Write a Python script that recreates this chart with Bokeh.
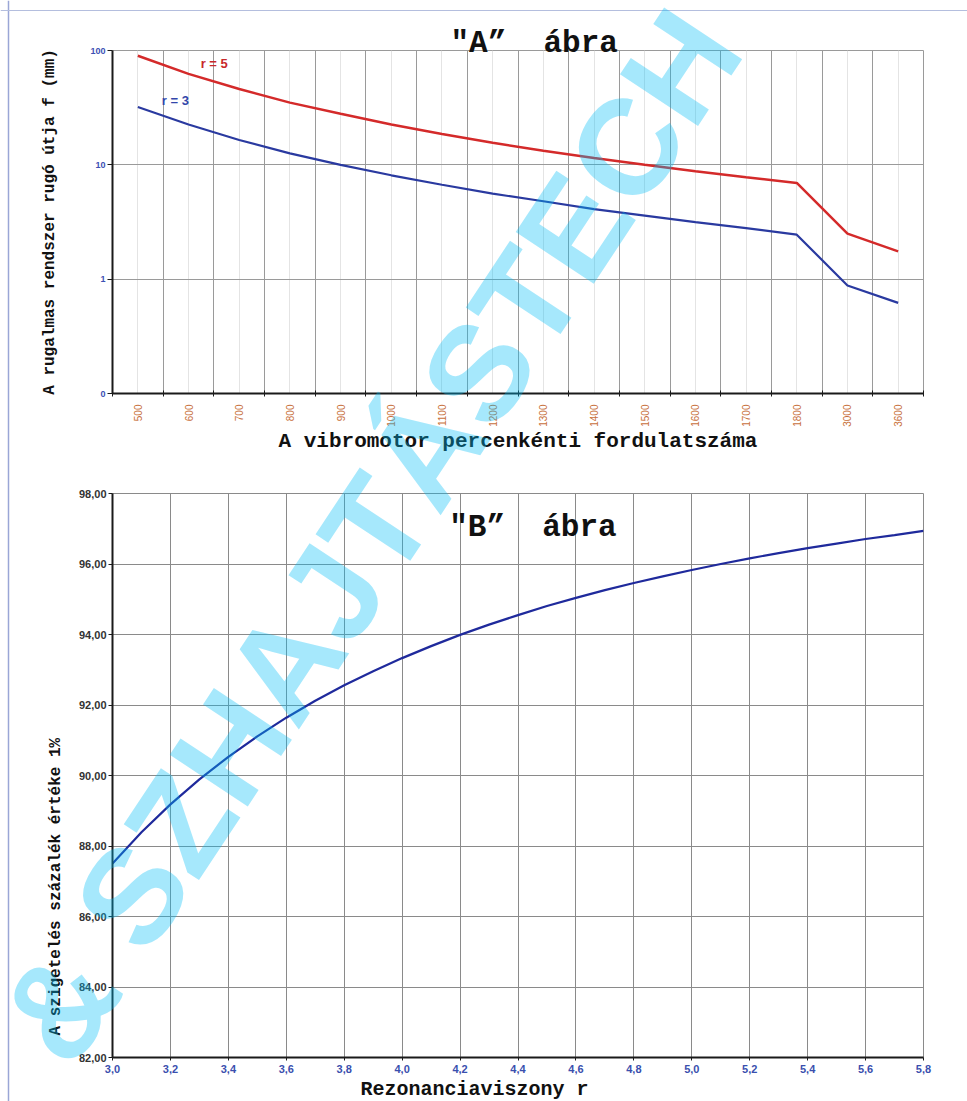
import math
from bokeh.plotting import figure
from bokeh.models import FixedTicker, Label, Range1d, Title, Span
from bokeh.layouts import column
from bokeh.embed import file_html
from bokeh.resources import INLINE

# ---------------- data: chart "A" ----------------
speeds = ["500", "600", "700", "800", "900", "1000", "1100", "1200", "1300",
          "1400", "1500", "1600", "1700", "1800", "3000", "3600"]
f_r5 = [90, 62.5, 46, 35, 28, 22.5, 18.6, 15.6, 13.3, 11.5, 10, 8.8, 7.8, 6.95, 2.5, 1.75]
f_r3 = [32, 22.5, 16.5, 12.6, 10, 8.1, 6.7, 5.6, 4.8, 4.1, 3.6, 3.15, 2.8, 2.45, 0.88, 0.62]
y_ticks_a = [0.1, 1, 10, 100]
y_labels_a = ["0", "1", "10", "100"]

# ---------------- data: chart "B" ----------------
ratio = [3.0, 3.1, 3.2, 3.3, 3.4, 3.5, 3.6, 3.7, 3.8, 3.9, 4.0, 4.1, 4.2, 4.3, 4.4,
         4.5, 4.6, 4.7, 4.8, 4.9, 5.0, 5.1, 5.2, 5.3, 5.4, 5.5, 5.6, 5.7, 5.8]
isolation = [87.50, 88.39, 89.18, 89.89, 90.53, 91.11, 91.64, 92.12, 92.56, 92.96,
             93.33, 93.67, 93.99, 94.28, 94.55, 94.81, 95.04, 95.26, 95.46, 95.65,
             95.83, 96.00, 96.16, 96.31, 96.45, 96.58, 96.71, 96.82, 96.94]
x_ticks_b = [3.0, 3.2, 3.4, 3.6, 3.8, 4.0, 4.2, 4.4, 4.6, 4.8, 5.0, 5.2, 5.4, 5.6, 5.8]
x_labels_b = ["3,0", "3,2", "3,4", "3,6", "3,8", "4,0", "4,2", "4,4", "4,6", "4,8",
              "5,0", "5,2", "5,4", "5,6", "5,8"]
y_ticks_b = [82, 84, 86, 88, 90, 92, 94, 96, 98]
y_labels_b = ["82,00", "84,00", "86,00", "88,00", "90,00", "92,00", "94,00", "96,00", "98,00"]

MONO = "Liberation Mono"
SANS = "Liberation Sans"
NBSP = "\u00a0"
W = 967
H = 1101
A_H = 460
B_H = H - A_H

# page-pixel frame boxes (used only to place annotations)
A_L, A_R, A_T, A_B = 110, 923, 50, 393
B_L, B_R, B_T, B_B = 112, 943, 493, 1057


def a_x(px):
    return (px - A_L) / (A_R - A_L) * len(speeds)


def a_y(py):
    return 10 ** (2 - (py - A_T) / (A_B - A_T) * 3)


def b_x(px):
    return 3.0 + (px - B_L) / (B_R - B_L) * 2.8


def b_y(py):
    return 98 - (py - B_T) / (B_B - B_T) * 16


def style_common(p):
    p.background_fill_color = "white"
    p.border_fill_color = "white"
    p.outline_line_color = "#9a9a9a"
    p.outline_line_width = 1
    for ax in (p.xaxis[0], p.yaxis[0]):
        ax.axis_line_color = "#1a1a1a"
        ax.axis_line_width = 2
        ax.minor_tick_line_color = None


# ================= chart "A" =================
pa = figure(width=W, height=A_H, x_range=Range1d(0, len(speeds)),
            y_range=Range1d(0.1, 100), y_axis_type="log",
            output_backend="svg", toolbar_location=None,
            min_border_left=A_L, min_border_right=W - A_R,
            min_border_top=A_T, min_border_bottom=A_H - A_B)
style_common(pa)

xs = [i + 0.5 for i in range(len(speeds))]
pa.line(xs, f_r5, line_color="#d42a2a", line_width=2.5)
pa.line(xs, f_r3, line_color="#2a3aa0", line_width=2.2)

xa = pa.xaxis[0]
xa.ticker = FixedTicker(ticks=xs, minor_ticks=list(range(len(speeds) + 1)))
xa.major_label_overrides = {x: s for x, s in zip(xs, speeds)}
xa.major_label_orientation = math.pi / 2
xa.major_tick_line_color = None
xa.minor_tick_line_color = "#1a1a1a"
xa.minor_tick_in = 3
xa.minor_tick_out = 3
xa.major_label_standoff = 5
xa.major_label_text_font = SANS
xa.major_label_text_font_size = "10px"
xa.major_label_text_color = "#c8703c"
xa.axis_label = "A vibromotor percenkénti fordulatszáma"
xa.axis_label_text_font = MONO
xa.axis_label_text_font_style = "bold"
xa.axis_label_text_font_size = "21px"
xa.axis_label_text_color = "#111111"
xa.axis_label_standoff = 0

ya = pa.yaxis[0]
ya.ticker = FixedTicker(ticks=y_ticks_a, minor_ticks=[])
ya.major_label_overrides = {t: s for t, s in zip(y_ticks_a, y_labels_a)}
ya.major_tick_in = 0
ya.major_tick_out = 5
ya.major_tick_line_color = "#1a1a1a"
ya.major_label_standoff = 2
ya.major_label_text_font = SANS
ya.major_label_text_font_style = "bold"
ya.major_label_text_font_size = "9px"
ya.major_label_text_color = "#3c50b4"
ya.axis_label = "A rugalmas rendszer rugó útja f (mm)"
ya.axis_label_text_font = MONO
ya.axis_label_text_font_style = "bold"
ya.axis_label_text_font_size = "16px"
ya.axis_label_text_color = "#111111"
ya.axis_label_standoff = 28

pa.xgrid.grid_line_color = "#e4e4e4"
pa.xgrid.minor_grid_line_color = "#9a9a9a"
pa.ygrid.grid_line_color = "#9a9a9a"
pa.ygrid.minor_grid_line_color = None

pa.add_layout(Label(x=a_x(212), y=a_y(63), text="r = 5", text_font=SANS,
                    text_font_style="bold", text_font_size="13px", text_color="#c8282a",
                    text_align="center", text_baseline="middle"))
pa.add_layout(Label(x=a_x(173), y=a_y(100), text="r = 3", text_font=SANS,
                    text_font_style="bold", text_font_size="13px", text_color="#3246aa",
                    text_align="center", text_baseline="middle"))

# ================= chart "B" =================
pb = figure(width=W, height=B_H, x_range=Range1d(3.0, 5.8), y_range=Range1d(82, 98),
            output_backend="svg", toolbar_location=None,
            min_border_left=B_L, min_border_right=W - B_R,
            min_border_top=B_T - A_H, min_border_bottom=B_H - (B_B - A_H))
style_common(pb)
pb.outline_line_color = "#8a8a8a"

pb.line(ratio, isolation, line_color="#1f2a9c", line_width=2.2)

xb = pb.xaxis[0]
xb.ticker = FixedTicker(ticks=x_ticks_b, minor_ticks=[])
xb.major_label_overrides = {t: s for t, s in zip(x_ticks_b, x_labels_b)}
xb.major_tick_in = 0
xb.major_tick_out = 3
xb.major_tick_line_color = "#1a1a1a"
xb.major_label_standoff = 4
xb.major_label_text_font = SANS
xb.major_label_text_font_style = "bold"
xb.major_label_text_font_size = "11px"
xb.major_label_text_color = "#3a4fae"

yb = pb.yaxis[0]
yb.ticker = FixedTicker(ticks=y_ticks_b, minor_ticks=[])
yb.major_label_overrides = {t: s for t, s in zip(y_ticks_b, y_labels_b)}
yb.major_tick_in = 0
yb.major_tick_out = 4
yb.major_tick_line_color = "#1a1a1a"
yb.major_label_standoff = 2
yb.major_label_text_font = SANS
yb.major_label_text_font_style = "bold"
yb.major_label_text_font_size = "11px"
yb.major_label_text_color = "#333333"

pb.xgrid.grid_line_color = "#8a8a8a"
pb.ygrid.grid_line_color = "#8a8a8a"

pb.add_layout(Title(text="Rezonanciaviszony r", align="left", offset=248, standoff=0,
                    text_font=MONO, text_font_style="bold", text_font_size="20px",
                    text_color="#111111"), "below")
pb.add_layout(Title(text="A szigetelés százalék értéke 1%", align="left", offset=22,
                    standoff=22, text_font=MONO, text_font_style="bold",
                    text_font_size="16px", text_color="#111111"), "left")
pb.add_layout(Label(x=b_x(457), y=b_y(527), text="\"B”" + NBSP + NBSP + "ábra",
                    text_font=MONO, text_font_style="bold", text_font_size="31px",
                    text_color="#111111", text_align="left", text_baseline="alphabetic"))

# ============ page overlay (own root): title A, watermark, page edge lines ============
pw = figure(width=W, height=H, x_range=Range1d(0, W), y_range=Range1d(H, 0),
            output_backend="svg", toolbar_location=None,
            x_axis_location=None, y_axis_location=None,
            min_border=0, min_border_left=0, min_border_right=0,
            min_border_top=0, min_border_bottom=0)
pw.grid.visible = False
pw.outline_line_color = None
pw.background_fill_color = None
pw.border_fill_color = None
pw.styles = {"position": "absolute", "top": "0px", "left": "0px", "pointer-events": "none"}

pw.add_layout(Label(x=450, y=43, text="\"A”" + NBSP + NBSP + "ábra", text_font=MONO,
                    text_font_style="bold", text_font_size="31px", text_color="#111111",
                    text_align="left", text_baseline="alphabetic"))
pw.add_layout(Span(location=8, dimension="height", line_color="#9aa6d6", line_width=1.5))
pw.add_layout(Span(location=10, dimension="width", line_color="#b4bede", line_width=1))
pw.add_layout(Label(x=32, y=1046, text="& SZHAJTÁSTECH", angle=math.radians(56.5),
                    text_font=SANS, text_font_style="bold", text_font_size="136px",
                    text_color="#00bef5", text_alpha=0.35,
                    text_align="left", text_baseline="middle"))

layout = column(pa, pb, spacing=0)
open("out.html", "w").write(file_html([layout, pw], INLINE))
